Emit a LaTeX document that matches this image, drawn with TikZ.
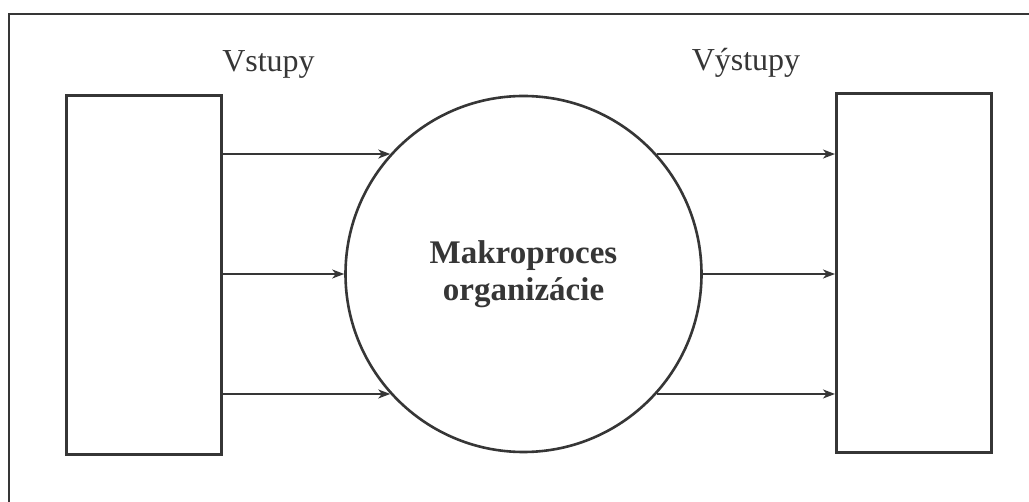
\documentclass[tikz,border=0pt]{standalone}
\usepackage{fontspec}
\setmainfont{Liberation Serif}
\usetikzlibrary{arrows.meta}
\definecolor{ink}{HTML}{363636}
\tikzset{
  box/.style={draw=ink, line width=3pt, minimum width=155pt, minimum height=359pt, inner sep=0pt},
  proc/.style={draw=ink, line width=2.6pt, circle, minimum size=356pt, inner sep=0pt, align=center,
    font=\fontsize{33}{37}\selectfont\bfseries, text=ink},
  flow/.style={draw=ink, line width=1.6pt, -{Stealth[length=12pt,width=9pt,inset=3.5pt]}},
  lbl/.style={font=\fontsize{32}{36}\selectfont, text=ink, anchor=base},
  frame/.style={draw=ink, line width=2pt}
}
\begin{document}
\begin{tikzpicture}[x=1pt,y=-1pt]
\useasboundingbox (0,0) rectangle (1029,502);
\fill[white] (0,0) rectangle (1029,502);
\coordinate (f1) at (1029,14);
\coordinate (f2) at (9,14);
\coordinate (f3) at (9,502);
\draw[frame] (f1) -- (f2) -- (f3);
\node[box] (in) at (143.5,275.5) {};
\node[box] (out) at (914,273.5) {};
\node[proc] (mp) at (523.5,274) {Makroproces\\organizácie};
\node[lbl] (vs) at (268.5,72) {Vstupy};
\node[lbl] (vy) at (746,71) {Výstupy};
\draw[flow] (in.east |- mp.138) -- (mp.138);
\draw[flow] (in.east |- mp.180) -- (mp.180);
\draw[flow] (in.east |- mp.222) -- (mp.222);
\draw[flow] (mp.42) -- (out.west |- mp.42);
\draw[flow] (mp.0) -- (out.west |- mp.0);
\draw[flow] (mp.-42) -- (out.west |- mp.-42);
\end{tikzpicture}
\end{document}
